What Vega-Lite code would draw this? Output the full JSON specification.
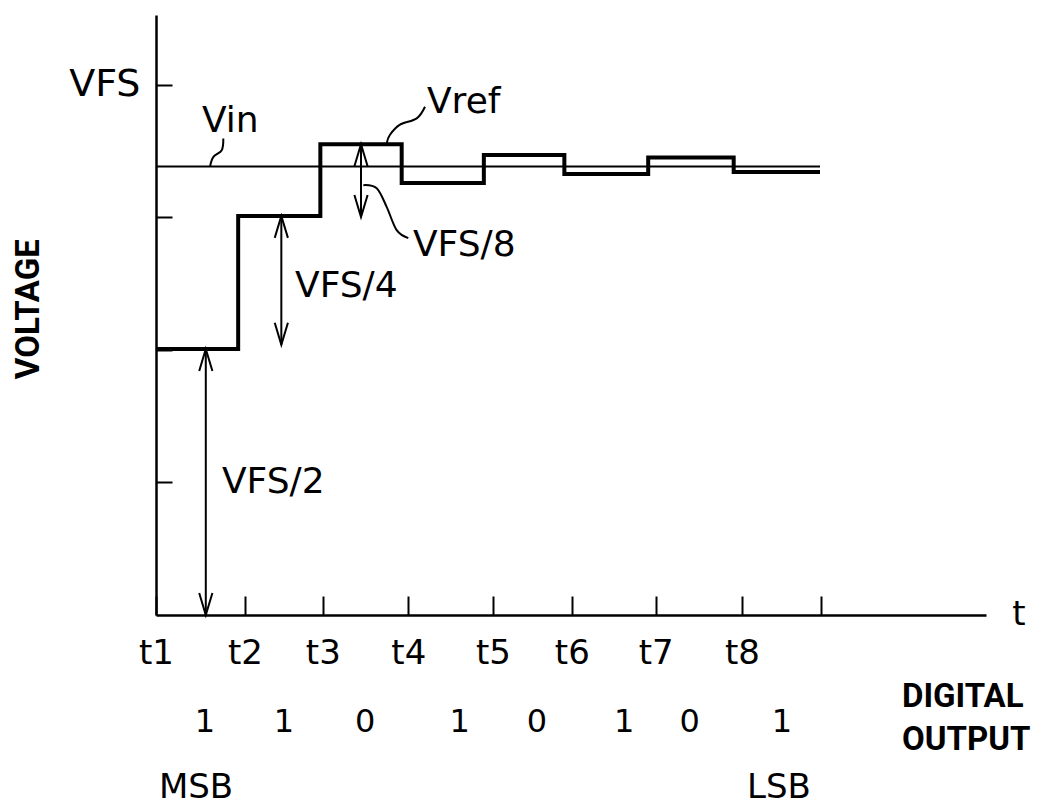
{
  "$schema": "https://vega.github.io/schema/vega-lite/v6.json",
  "width": 830,
  "height": 600,
  "autosize": {"type": "none"},
  "padding": {"left": 156, "top": 15, "right": 51, "bottom": 191},
  "background": "white",
  "config": {"view": {"stroke": null}, "font": "DejaVu Sans"},
  "datasets": {
    "steps": [
      {"t": 0, "v": 0.502, "bit": "1", "bit_t": 0.59},
      {"t": 0.99, "v": 0.753, "bit": "1", "bit_t": 1.54},
      {"t": 1.98, "v": 0.888, "bit": "0", "bit_t": 2.52},
      {"t": 2.96, "v": 0.815, "bit": "1", "bit_t": 3.66},
      {"t": 3.95, "v": 0.868, "bit": "0", "bit_t": 4.59},
      {"t": 4.92, "v": 0.832, "bit": "1", "bit_t": 5.64},
      {"t": 5.93, "v": 0.863, "bit": "0", "bit_t": 6.43},
      {"t": 6.96, "v": 0.836, "bit": "1", "bit_t": 7.54},
      {"t": 8.0, "v": 0.836}
    ],
    "vin": [{"t0": 0, "t1": 8.0, "v": 0.846}],
    "arrows": [
      {"name": "VFS/2", "t": 0.60, "low": 0, "high": 0.502},
      {"name": "VFS/4", "t": 1.51, "low": 0.51, "high": 0.753},
      {"name": "VFS/8", "t": 2.47, "low": 0.751, "high": 0.888}
    ],
    "leaders": [
      {"id": "Vin", "o": 1, "t": 0.811, "v": 0.899},
      {"id": "Vin", "o": 2, "t": 0.792, "v": 0.877},
      {"id": "Vin", "o": 3, "t": 0.690, "v": 0.864},
      {"id": "Vin", "o": 4, "t": 0.651, "v": 0.846},
      {"id": "Vref", "o": 1, "t": 2.780, "v": 0.890},
      {"id": "Vref", "o": 2, "t": 2.819, "v": 0.906},
      {"id": "Vref", "o": 3, "t": 2.940, "v": 0.925},
      {"id": "Vref", "o": 4, "t": 3.141, "v": 0.937},
      {"id": "Vref", "o": 5, "t": 3.241, "v": 0.959},
      {"id": "VFS8", "o": 1, "t": 2.498, "v": 0.811},
      {"id": "VFS8", "o": 2, "t": 2.659, "v": 0.805},
      {"id": "VFS8", "o": 3, "t": 2.779, "v": 0.770},
      {"id": "VFS8", "o": 4, "t": 2.900, "v": 0.726},
      {"id": "VFS8", "o": 5, "t": 3.040, "v": 0.711}
    ],
    "labels": [
      {"label": "Vin", "t": 0.554, "v": 0.911},
      {"label": "Vref", "t": 3.265, "v": 0.947},
      {"label": "VFS/8", "t": 3.096, "v": 0.677},
      {"label": "VFS/4", "t": 1.675, "v": 0.600},
      {"label": "VFS/2", "t": 0.795, "v": 0.230}
    ],
    "notes": [
      {"label": "t", "t": 10.398, "v": -0.019},
      {"label": "MSB", "t": 0.482, "v": -0.345},
      {"label": "LSB", "t": 7.506, "v": -0.345}
    ],
    "output_title": [
      {"label": "DIGITAL", "t": 8.988, "v": -0.174},
      {"label": "OUTPUT", "t": 8.988, "v": -0.255}
    ],
    "axis_title": [{"label": "VOLTAGE", "t": -1.53, "v": 0.577}]
  },
  "layer": [
    {
      "data": {"name": "vin"},
      "mark": {"type": "rule", "stroke": "black", "strokeWidth": 2},
      "encoding": {
        "x": {"field": "t0", "type": "quantitative", "title": null, "scale": {"domain": [0, 10], "nice": false, "zero": false},
          "axis": {
            "values": [0, 1.072, 2.01, 3.04, 4.06, 5.01, 6.02, 7.06, 8.01],
            "labelExpr": "datum.value < 7.9 ? 't' + (round(datum.value) + 1) : ''",
            "tickSize": -19, "tickWidth": 2, "tickColor": "black",
            "domainColor": "black", "domainWidth": 2.5,
            "labelPadding": 40, "labelFontSize": 34, "labelColor": "black", "labelFont": "DejaVu Sans",
            "labelBaseline": "top", "labelFlush": false, "labelOverlap": false,
            "grid": false, "title": null
          }},
        "x2": {"field": "t1"},
        "y": {"field": "v", "type": "quantitative", "title": null, "scale": {"domain": [0, 1.132], "nice": false, "zero": false},
          "axis": {
            "values": [0.25, 0.5, 0.75, 1],
            "labelExpr": "datum.value == 1 ? 'VFS' : ''",
            "tickSize": -16, "tickWidth": 2, "tickColor": "black",
            "domainColor": "black", "domainWidth": 2.5,
            "labelPadding": 32, "labelFontSize": 38, "labelColor": "black", "labelFont": "DejaVu Sans",
            "labelBaseline": "middle", "labelOverlap": false, "labelFlush": false,
            "grid": false, "title": null
          }}
      }
    },
    {
      "data": {"name": "steps"},
      "mark": {"type": "line", "interpolate": "step-after", "stroke": "black", "strokeWidth": 4},
      "encoding": {
        "x": {"field": "t", "type": "quantitative", "title": null, "scale": {"domain": [0, 10], "nice": false, "zero": false}},
        "y": {"field": "v", "type": "quantitative", "title": null, "scale": {"domain": [0, 1.132], "nice": false, "zero": false}}
      }
    },
    {
      "data": {"name": "arrows"},
      "mark": {"type": "rule", "stroke": "black", "strokeWidth": 2},
      "encoding": {
        "x": {"field": "t", "type": "quantitative", "title": null, "scale": {"domain": [0, 10], "nice": false, "zero": false}},
        "y": {"field": "low", "type": "quantitative", "title": null, "scale": {"domain": [0, 1.132], "nice": false, "zero": false}},
        "y2": {"field": "high"}
      }
    },
    {
      "data": {"name": "arrows"},
      "mark": {"type": "point", "shape": "M -0.3 1 L 0 0 L 0.3 1", "filled": false, "size": 1936, "stroke": "black", "strokeWidth": 2, "opacity": 1},
      "encoding": {
        "x": {"field": "t", "type": "quantitative", "title": null, "scale": {"domain": [0, 10], "nice": false, "zero": false}},
        "y": {"field": "high", "type": "quantitative", "title": null, "scale": {"domain": [0, 1.132], "nice": false, "zero": false}}
      }
    },
    {
      "data": {"name": "arrows"},
      "mark": {"type": "point", "shape": "M -0.3 -1 L 0 0 L 0.3 -1", "filled": false, "size": 1936, "stroke": "black", "strokeWidth": 2, "opacity": 1},
      "encoding": {
        "x": {"field": "t", "type": "quantitative", "title": null, "scale": {"domain": [0, 10], "nice": false, "zero": false}},
        "y": {"field": "low", "type": "quantitative", "title": null, "scale": {"domain": [0, 1.132], "nice": false, "zero": false}}
      }
    },
    {
      "data": {"name": "leaders"},
      "mark": {"type": "line", "interpolate": "cardinal", "stroke": "black", "strokeWidth": 2},
      "encoding": {
        "x": {"field": "t", "type": "quantitative", "title": null, "scale": {"domain": [0, 10], "nice": false, "zero": false}},
        "y": {"field": "v", "type": "quantitative", "title": null, "scale": {"domain": [0, 1.132], "nice": false, "zero": false}},
        "detail": {"field": "id"},
        "order": {"field": "o"}
      }
    },
    {
      "data": {"name": "labels"},
      "mark": {"type": "text", "align": "left", "baseline": "alphabetic", "fontSize": 36, "font": "DejaVu Sans", "color": "black"},
      "encoding": {
        "x": {"field": "t", "type": "quantitative", "title": null, "scale": {"domain": [0, 10], "nice": false, "zero": false}},
        "y": {"field": "v", "type": "quantitative", "title": null, "scale": {"domain": [0, 1.132], "nice": false, "zero": false}},
        "text": {"field": "label"}
      }
    },
    {
      "data": {"name": "notes"},
      "mark": {"type": "text", "align": "center", "baseline": "alphabetic", "fontSize": 34, "font": "DejaVu Sans", "color": "black"},
      "encoding": {
        "x": {"field": "t", "type": "quantitative", "title": null, "scale": {"domain": [0, 10], "nice": false, "zero": false}},
        "y": {"field": "v", "type": "quantitative", "title": null, "scale": {"domain": [0, 1.132], "nice": false, "zero": false}},
        "text": {"field": "label"}
      }
    },
    {
      "data": {"name": "steps"},
      "transform": [{"filter": "isValid(datum.bit)"}],
      "mark": {"type": "text", "align": "center", "baseline": "alphabetic", "fontSize": 32, "font": "DejaVu Sans", "color": "black"},
      "encoding": {
        "x": {"field": "bit_t", "type": "quantitative", "title": null, "scale": {"domain": [0, 10], "nice": false, "zero": false}},
        "y": {"datum": -0.221, "type": "quantitative", "title": null, "scale": {"domain": [0, 1.132], "nice": false, "zero": false}},
        "text": {"field": "bit"}
      }
    },
    {
      "data": {"name": "output_title"},
      "mark": {"type": "text", "align": "left", "baseline": "alphabetic", "fontSize": 33, "fontWeight": "bold", "font": "Roboto", "color": "black"},
      "encoding": {
        "x": {"field": "t", "type": "quantitative", "title": null, "scale": {"domain": [0, 10], "nice": false, "zero": false}},
        "y": {"field": "v", "type": "quantitative", "title": null, "scale": {"domain": [0, 1.132], "nice": false, "zero": false}},
        "text": {"field": "label"}
      }
    },
    {
      "data": {"name": "axis_title"},
      "mark": {"type": "text", "align": "center", "baseline": "middle", "angle": 270, "fontSize": 33, "fontWeight": "bold", "font": "Roboto", "color": "black"},
      "encoding": {
        "x": {"field": "t", "type": "quantitative", "title": null, "scale": {"domain": [0, 10], "nice": false, "zero": false}},
        "y": {"field": "v", "type": "quantitative", "title": null, "scale": {"domain": [0, 1.132], "nice": false, "zero": false}},
        "text": {"field": "label"}
      }
    }
  ]
}
